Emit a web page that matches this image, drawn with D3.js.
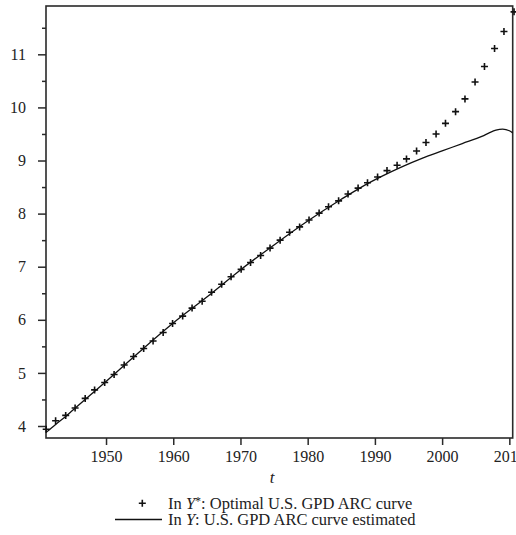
<!DOCTYPE html>
<html>
<head>
<meta charset="utf-8">
<script src="https://cdn.jsdelivr.net/npm/d3@7"></script>
<style>
  body { margin: 0; background: #fff; }
  text { font-family: "Liberation Serif", "DejaVu Serif", serif; fill: #222; }
</style>
</head>
<body>
<div id="chart"></div>
<script>

var width = 516,
    height = 535;

// optimal curve (markers)
var optYears = [1941.1, 1942.5, 1944.0, 1945.4, 1946.9, 1948.3, 1949.8, 1951.2, 1952.7, 1954.1,
  1955.6, 1957.0, 1958.5, 1959.9, 1961.4, 1962.8, 1964.3, 1965.7, 1967.2, 1968.6,
  1970.1, 1971.5, 1973.0, 1974.4, 1975.9, 1977.3, 1978.8, 1980.2, 1981.7, 1983.1,
  1984.6, 1986.0, 1987.5, 1988.9, 1990.4, 1991.8, 1993.3, 1994.7, 1996.2, 1997.6,
  1999.1, 2000.5, 2002.0, 2003.4, 2004.9, 2006.3, 2007.8, 2009.2, 2010.7];
var optValues = [3.94, 4.10, 4.20, 4.34, 4.52, 4.68, 4.82, 4.97, 5.15, 5.31,
  5.46, 5.60, 5.76, 5.93, 6.07, 6.22, 6.35, 6.52, 6.67, 6.81,
  6.95, 7.08, 7.21, 7.35, 7.50, 7.65, 7.75, 7.88, 8.01, 8.13,
  8.24, 8.37, 8.48, 8.58, 8.69, 8.81, 8.91, 9.03, 9.18, 9.34,
  9.50, 9.70, 9.92, 10.16, 10.48, 10.77, 11.11, 11.43, 11.80];

// estimated curve (line)
var estYears = [1941.1, 1942.5, 1944, 1945, 1950, 1955, 1960, 1965, 1970, 1975, 1980, 1985,
  1988, 1991, 1994, 1997, 2000, 2003, 2006, 2007, 2008, 2009, 2010, 2010.5];
var estValues = [3.88, 4.03, 4.18, 4.29, 4.84, 5.40, 5.94, 6.43, 6.94, 7.41, 7.86, 8.27,
  8.50, 8.70, 8.88, 9.04, 9.18, 9.32, 9.46, 9.52, 9.57, 9.59, 9.56, 9.52];

var xTicks = [1950, 1960, 1970, 1980, 1990, 2000, 2010];
var yTicks = [4, 5, 6, 7, 8, 9, 10, 11];
var yMinor = [4.5, 5.5, 6.5, 7.5, 8.5, 9.5, 10.5, 11.5];

var margin = {left: 46, top: 6, right: 3.3, bottom: 97};
var pw = width - margin.left - margin.right,
    ph = height - margin.top - margin.bottom;

var svg = d3.select("#chart").append("svg")
    .attr("width", width)
    .attr("height", height);

var x = d3.scaleLinear().domain([1941.07, 2010.5]).range([0, pw]);
var y = d3.scaleLinear().domain([3.774, 11.91]).range([ph, 0]);

var g = svg.append("g").attr("transform", "translate(" + margin.left + "," + margin.top + ")");

// axes
var xAxis = g.append("g")
    .attr("transform", "translate(0," + ph + ")")
    .call(d3.axisBottom(x).tickValues(xTicks).tickSize(7).tickPadding(6).tickFormat(d3.format("d")));

var yAxis = g.append("g")
    .call(d3.axisLeft(y).tickValues(yTicks).tickSize(8).tickPadding(12).tickFormat(d3.format("d")));

var yAxisMinor = g.append("g")
    .call(d3.axisLeft(y).tickValues(yMinor).tickSize(4).tickFormat(""));

g.selectAll(".domain").remove();
g.selectAll(".tick line").attr("stroke", "#2a2a2a").attr("stroke-width", 1.5);
g.selectAll(".tick text")
    .style("font-family", "'Liberation Serif', serif")
    .style("font-size", "16px")
    .attr("fill", "#222");

// frame
g.append("rect")
    .attr("x", 0).attr("y", 0)
    .attr("width", pw).attr("height", ph)
    .attr("fill", "none")
    .attr("stroke", "#2a2a2a")
    .attr("stroke-width", 1.6);

// estimated line
var line = d3.line()
    .x(function(d, i){ return x(estYears[i]); })
    .y(function(d){ return y(d); })
    .curve(d3.curveMonotoneX);

g.append("path")
    .datum(estValues)
    .attr("d", line)
    .attr("fill", "none")
    .attr("stroke", "#111")
    .attr("stroke-width", 1.3);

// optimal markers
var s = 3.5;
var pts = g.selectAll(".pt").data(optValues).enter().append("path")
    .attr("class", "pt")
    .attr("d", "M" + (-s) + ",0H" + s + "M0," + (-s) + "V" + s)
    .attr("transform", function(d, i){ return "translate(" + x(optYears[i]) + "," + y(d) + ")"; })
    .attr("stroke", "#111")
    .attr("stroke-width", 1.6)
    .attr("fill", "none");

// x title
svg.append("text")
    .attr("x", 272)
    .attr("y", 483)
    .attr("text-anchor", "middle")
    .style("font-size", "17px")
    .style("font-style", "italic")
    .text("t");

// legend
var leg = svg.append("g");
leg.append("path")
    .attr("d", "M" + (142.3 - s) + ",503.3H" + (142.3 + s) + "M142.3," + (503.3 - s) + "V" + (503.3 + s))
    .attr("stroke", "#111").attr("stroke-width", 1.6);
var t1 = leg.append("text").attr("x", 168).attr("y", 508.5).style("font-size", "16.5px");
t1.append("tspan").text("In ");
t1.append("tspan").style("font-style", "italic").text("Y");
t1.append("tspan").attr("dy", -4).style("font-size", "12px").text("*");
t1.append("tspan").attr("dy", 4).text(": Optimal U.S. GPD ARC curve");

leg.append("line")
    .attr("x1", 115).attr("x2", 162)
    .attr("y1", 519.5).attr("y2", 519.5)
    .attr("stroke", "#111").attr("stroke-width", 1.3);
var t2 = leg.append("text").attr("x", 168).attr("y", 524.5).style("font-size", "16.5px");
t2.append("tspan").text("In ");
t2.append("tspan").style("font-style", "italic").text("Y");
t2.append("tspan").text(": U.S. GPD ARC curve estimated");

</script>
</body>
</html>
